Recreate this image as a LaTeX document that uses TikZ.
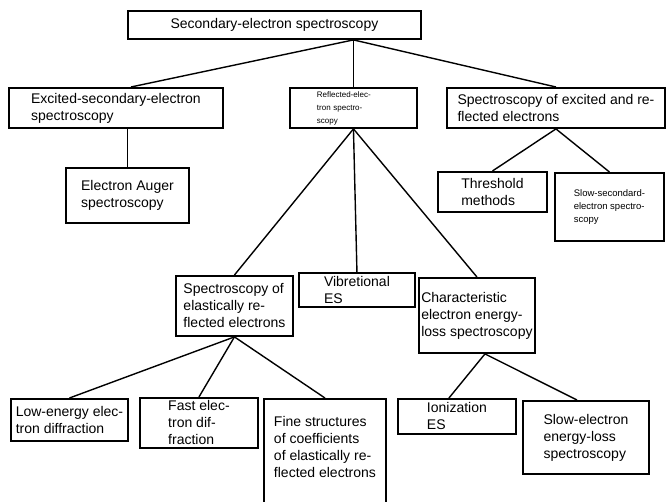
\documentclass[tikz,border=0pt]{standalone}
\usepackage{fontspec}
\setmainfont{Liberation Sans}
\usetikzlibrary{positioning}

\begin{document}
\begin{tikzpicture}[
    x=1pt, y=-1pt,
    box/.style={draw, line width=1.9pt, anchor=north west, align=left, inner sep=1pt, font=\fontsize{14}{17}\selectfont},
    smallbox/.style={box, font=\fontsize{8}{13}\selectfont},
    midbox/.style={box, font=\fontsize{9.5}{13}\selectfont},
    link/.style={line width=1.4pt}
]
    \useasboundingbox (0,0) rectangle (666,501);
    \clip (0,0) rectangle (666,501);

    % 1. Root
    \node[box, minimum width=293, minimum height=28] (top) at (127,10) {Secondary-electron spectroscopy};

    % 2. First level
    \node[box, minimum width=214, minimum height=40] (excit) at (8,87) {Excited-secondary-electron\\spectroscopy};
    \node[smallbox, minimum width=127, minimum height=40, text width=73] (refl) at (289,87) {Reflected-elec-\\tron spectro-\\scopy};
    \node[box, minimum width=218, minimum height=40] (exref) at (446,87) {Spectroscopy of excited and re-\\flected electrons};

    % 3. Second level
    \node[box, minimum width=123, minimum height=55] (auger) at (65,167) {Electron Auger\\spectroscopy};
    \node[box, minimum width=109, minimum height=40] (thresh) at (437,171) {Threshold\\methods};
    \node[midbox, minimum width=109, minimum height=68] (slowsec) at (554,172) {Slow-secondard-\\electron spectro-\\scopy};

    \node[box, minimum width=117, minimum height=60] (elastic) at (175,275) {Spectroscopy of\\elastically re-\\flected electrons};
    \node[box, minimum width=116, minimum height=34] (vibr) at (298,272) {Vibretional\\ES};
    \node[box, minimum width=116, minimum height=75] (charact) at (418,277) {Characteristic\\electron energy-\\loss spectroscopy};

    % 4. Bottom level
    \node[box, minimum width=117, minimum height=42] (leed) at (10,398) {Low-energy elec-\\tron diffraction};
    \node[box, minimum width=118, minimum height=50] (fast) at (139,397) {Fast elec-\\tron dif-\\fraction};
    \node[box, minimum width=122, inner ysep=17pt, text depth=70pt] (fine) at (263,398) {Fine structures\\of coefficients\\of elastically re-\\flected electrons};
    \node[box, minimum width=118, minimum height=35] (ion) at (397,398) {Ionization\\ES};
    \node[box, minimum width=126, minimum height=73] (slowe) at (522,400) {Slow-electron\\energy-loss\\spectroscopy};

    % 5. Connectors
    \coordinate (topjoin) at (top.south -| refl.north);
    \foreach \c/\dx in {excit/15, refl/0, exref/0}
        \draw[link] (topjoin) -- ([xshift=\dx pt]\c.north);
    \draw[link] (auger.north |- excit.south) -- (auger.north);
    \foreach \c in {elastic, vibr, charact}
        \draw[link] (refl.south) -- (\c.north);
    \foreach \c in {thresh, slowsec}
        \draw[link] (exref.south) -- (\c.north);
    \foreach \c in {leed, fast, fine}
        \draw[link] (elastic.south) -- (\c.north);
    \coordinate (charjoin) at ([xshift=8pt]charact.south);
    \draw[link] (charjoin) -- ([xshift=-8pt]ion.north);
    \draw[link] (charjoin) -- ([xshift=-9pt]slowe.north);

\end{tikzpicture}
\end{document}
